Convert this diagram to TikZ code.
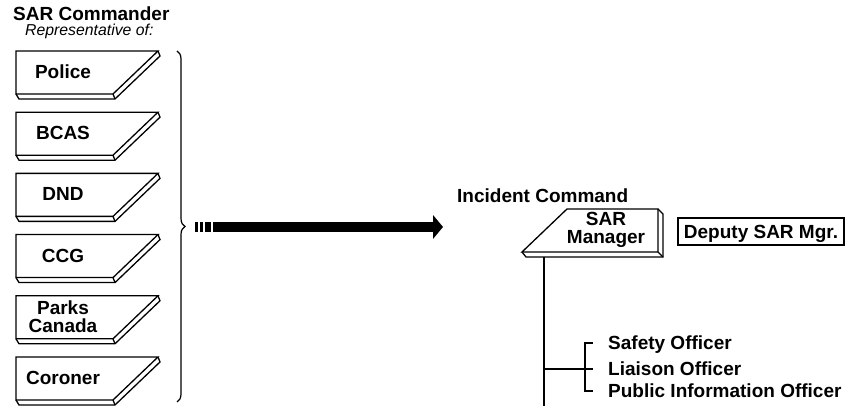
\documentclass[tikz,border=0pt]{standalone}
\usepackage{fontspec}
\setsansfont{Liberation Sans}
\usepackage{tikz}
\usetikzlibrary{calc, arrows.meta, decorations.pathreplacing, positioning}
\tikzset{
    boldtext/.style = {font=\sffamily\bfseries\fontsize{19}{18}\selectfont},
    agencynode/.style = {boldtext, draw=none, rectangle, inner sep = 0em, node distance=0em, align=center},
    titlenode/.style = {boldtext, draw=none, inner sep = 0em, anchor=base west},
    subtitlenode/.style = {font=\sffamily\itshape\fontsize{15.8}{16}\selectfont, inner sep = 0em, anchor=base west},
    officernode/.style = {boldtext, inner sep = 0em, anchor=west, text height=13.5pt, text depth=0pt},
    deputynode/.style = {boldtext, draw, line width=1.6pt, rectangle, inner sep = 0em, 
      minimum width=166pt, minimum height=27pt, text height=13.5pt, text depth=0pt},
    agencyline/.style = {line width=1.3pt, line join=miter},
    orgline/.style = {line width=1.2pt},
    bracestyle/.style = {line width=1.2pt, decorate, decoration={brace, amplitude=8pt}},
    bigarrow/.style = {line width=10pt, dash pattern=on 3pt off 2pt on 3pt off 2pt on 6pt off 2pt on 600pt,
      -{Triangle[length=10pt, width=24pt, line width=0pt]}}
}
\newcommand{\agencyshape}[1]{%
    \draw[agencyline] ([shift={(-47,21)}]#1.center) -- ([shift={(95,21)}]#1.center)
        -- ([shift={(50,-22)}]#1.center) -- ([shift={(-47,-22)}]#1.center) -- cycle;
    \draw[agencyline] ([shift={(-47,-22)}]#1.center) -- ([shift={(-44,-27)}]#1.center)
        -- ([shift={(52,-27)}]#1.center) -- ([shift={(97,16)}]#1.center) -- ([shift={(95,21)}]#1.center);
    \draw[agencyline] ([shift={(50,-22)}]#1.center) -- ([shift={(52,-27)}]#1.center);
}
\begin{document}
\begin{tikzpicture}[x=1pt, y=1pt]
    \useasboundingbox (0,0) rectangle (852,406);

    \node [name=commander, titlenode] at (13,385) {SAR Commander};
    \node [name=represent, subtitlenode] at (25,370) {Representative of:};

    \node [name=police, agencynode] at (63,334) {Police};
    \node [name=bcas, agencynode, below of = police, yshift=-61.2pt] {BCAS};
    \node [name=dnd, agencynode, below of = bcas, yshift=-61.2pt] {DND};
    \node [name=ccg, agencynode, below of = dnd, yshift=-61.2pt] {CCG};
    \node [name=parks, agencynode, below of = ccg, yshift=-61.2pt] {Parks\\Canada};
    \node [name=coroner, agencynode, below of = parks, yshift=-61.2pt] {Coroner};

    \agencyshape{police}
    \agencyshape{bcas}
    \agencyshape{dnd}
    \agencyshape{ccg}
    \agencyshape{parks}
    \agencyshape{coroner}

    \coordinate (bracetop) at (177,355);
    \coordinate (bracebot) at (177,4);
    \draw[bracestyle] (bracetop) -- (bracebot);

    \coordinate (arrowtail) at (195,179);
    \coordinate (arrowtip) at (443,179);
    \draw[bigarrow] (arrowtail) -- (arrowtip);

    \node [name=incident, titlenode] at (457,203) {Incident Command};

    \node [name=sarmgr, agencynode] at (606,176) {SAR\\Manager};
    \draw[agencyline] ([shift={(-84,-22)}]sarmgr.center) -- ([shift={(-39,21)}]sarmgr.center)
        -- ([shift={(52,21)}]sarmgr.center) -- ([shift={(52,-22)}]sarmgr.center) -- cycle;
    \draw[agencyline] ([shift={(52,21)}]sarmgr.center) -- ([shift={(57,16)}]sarmgr.center)
        -- ([shift={(57,-27)}]sarmgr.center) -- ([shift={(-80,-27)}]sarmgr.center) -- ([shift={(-84,-22)}]sarmgr.center);
    \draw[agencyline] ([shift={(52,-22)}]sarmgr.center) -- ([shift={(57,-27)}]sarmgr.center);

    \node [name=deputy, deputynode] at (761,174.5) {Deputy SAR Mgr.};

    \node [name=safety, officernode] at (608,63) {Safety Officer};
    \node [name=liaison, officernode] at (608,37) {Liaison Officer};
    \node [name=public, officernode] at (608,15) {Public Information Officer};

    \coordinate (stemtop) at (544,149);
    \coordinate (stembot) at (544,0);
    \coordinate (fork) at (544,37);
    \draw[orgline] (stemtop) -- (stembot);
    \draw[orgline] (fork) -- ([xshift=-15pt]liaison.west);
    \draw[orgline] ([xshift=-15pt]safety.west) -| ([xshift=-23pt]public.west) -- ([xshift=-15pt]public.west);
\end{tikzpicture}
\end{document}
